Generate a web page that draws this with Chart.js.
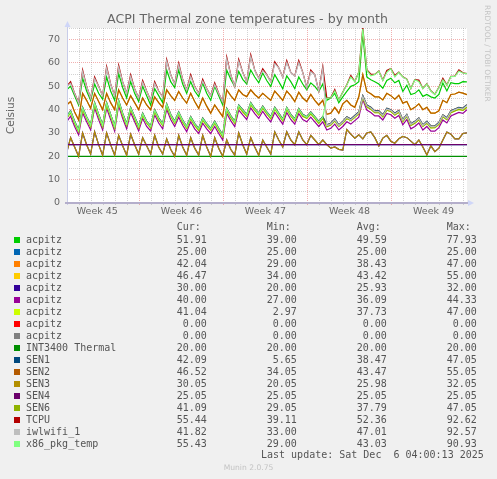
<!DOCTYPE html>
<html><head><meta charset="utf-8">
<script src="https://cdn.jsdelivr.net/npm/chart.js@4.4.1/dist/chart.umd.min.js"></script>
<style>
html,body{margin:0;padding:0;background:#f0f0f0;}
#wrap{position:relative;width:497px;height:479px;overflow:hidden;background:#f0f0f0;font-family:'DejaVu Sans',sans-serif;color:#666;}
#c{position:absolute;left:0;top:0;}
.t{position:absolute;white-space:pre;}
.mono{font-family:'DejaVu Sans Mono',monospace;font-size:10px;line-height:12px;color:#555;}
.sw{position:absolute;width:6px;height:6px;}
</style></head>
<body><div id="wrap">
<canvas id="c" width="497" height="222"></canvas>
<div class="t" style="left:0;width:495px;text-align:center;top:11px;font-size:12.6px;line-height:16px;color:#666;">ACPI Thermal zone temperatures - by month</div>
<div class="t" style="left:483px;top:5px;writing-mode:vertical-rl;font-size:7.5px;line-height:9px;color:#c4c4c4;">RRDTOOL / TOBI OETIKER</div>
<div id="legend"></div>
<div class="t mono" style="left:261px;top:449px;">Last update: Sat Dec  6 04:00:13 2025</div>
<div class="t" style="left:0;width:497px;text-align:center;top:463px;font-size:7.6px;line-height:10px;color:#c4c4c4;">Munin 2.0.75</div>
</div>
<script>
// ---- data: sample times in days from the left edge of the graph (regular RRD step of 8 h) ----
const sampleTimes = Array.from({length: 101}, (_, j) => -1/30 + j/3);
const flatTimes = [0, 33.31];

// x-axis labels (week names) and their positions (middle of each week, in days)
const weekLabels = ['Week 45', 'Week 46', 'Week 47', 'Week 48', 'Week 49'];
const weekLabelPos = [2.525, 9.525, 16.525, 23.525, 30.525];
const weekStarts = [6.025, 13.025, 20.025, 27.025];

const acpitzGreen = [48.5,
 50,46,42, 53.5,48,44, 51,47,44.5, 54,48,44, 55.5,49.5,45, 52,47,43.5, 50,46,42,
 49,46,43, 57,52,49.5, 57,51,47, 52,48,45.6, 51.4,47,44, 50,46,42, 57,53,50,
 56.4,53,51, 57,54,51.5, 55.7,52.5,50, 55,52,49, 54.5,52,49, 54,51,48.5, 51.5,50,47.8,
 51,44,45, 47,43,45.5, 47.8,50,50.7, 52,72.5,54, 52.8,52,51, 49.2,52.5,53.5, 51.5,52.5,47.8,
 50.5,46.5,47, 48.5,45.7,46.5, 45.5,45,46.5, 51.4,48,51.6, 51.2,51.2,52,
 51.91];

const orangeGroup = [42,
 43.5,39,35.6, 47,44,40.6, 47,43.5,40, 47,43,40, 48.5,45,42, 46,43,40, 45,42,40,
 45.5,43,41, 48.5,46,44, 47.8,45,42.8, 47,43.5,40.6, 45,41.5,38.5, 42,39.5,37, 48.5,46,44,
 48.5,46.5,45.6, 48.5,46.5,45, 47,45.5,44, 48,46,44, 48,46,43.5, 47.5,45,43.5, 46.5,44,42,
 44,38,38.5, 41,38.5,42.5, 44,42,41, 45.5,55,47.8, 46.8,45.5,45.5, 44.2,47,46, 44.5,46.2,42.8,
 43.5,40,41, 42.5,40,41, 38.5,38.5,39.5, 44,43,46.5, 46.7,47.5,47.1,
 46.47];

const midGroup = [37,
 39.5,35,31.3, 41,37,33.5, 43,38,33.5, 43,38,33, 44,38.5,34, 41,37,33, 38.5,35,33,
 40,36.5,34, 42.5,38,35, 39,35.5,32.8, 37,34,32, 36.4,34,32, 35,32,29.2, 40.6,37.5,35,
 42,40,38, 43,40.5,38.5, 41.5,39,37, 41,38.5,36, 41,38,36, 40.5,38,37, 39,37,35,
 37,33.5,34.2, 36,33.5,35, 37,36,37.5, 39,46,42, 41,39.5,39.5, 37.8,40.6,40, 38.5,39.7,35.7,
 38,34,35, 36.5,33.5,35, 33,33,34.5, 37.8,36.5,39.5, 40.3,41,40.6,
 42.09];

const limeGroup = [36.3,
 38.8,34.2,30.6, 40.1,36.3,32.7, 42.2,37.2,32.8, 42.1,37.3,32.2, 43.2,37.6,33.3, 40.3,36.2,32.1, 37.7,34.3,32.2,
 39.2,35.7,33.3, 41.6,37.3,34.2, 38.3,34.6,32, 36.2,33.3,31.2, 35.6,33.2,31.3, 34.3,31.2,28.4, 39.8,36.7,34.3,
 41.3,39.1,37.2, 42.2,39.8,37.7, 40.7,38.3,36.2, 40.3,37.7,35.3, 40.2,37.3,35.2, 39.8,37.2,36.3, 38.2,36.3,34.2,
 36.3,32.7,33.4, 35.2,32.8,34.3, 36.2,35.3,36.7, 38.3,45.2,41.2, 40.2,38.7,38.8, 37,39.8,39.2, 37.7,38.9,34.9,
 37.2,33.3,34.2, 35.7,32.8,34.2, 32.2,32.3,33.7, 37,35.7,38.7, 39.5,40.1,39.7,
 41.04];

const magentaLine = [34.8,
 37.2,32.8,29.2, 38.7,34.8,31.3, 40.8,35.8,31.4, 40.7,35.8,30.8, 41.8,36.3,31.8, 38.8,34.8,30.9, 36.3,32.8,30.9,
 37.8,34.3,31.8, 40.2,35.8,32.8, 36.8,33.3,30.6, 34.8,31.8,29.8, 34.2,31.8,29.8, 32.8,29.8,27, 38.4,35.3,32.8,
 39.8,37.8,35.8, 40.8,38.3,36.3, 39.3,36.8,34.8, 38.8,36.3,33.8, 38.8,35.8,33.8, 38.3,35.8,34.8, 36.8,34.8,32.8,
 34.8,31.3,32, 33.8,31.3,32.8, 34.8,33.8,35.3, 36.8,44.3,39.8, 38.8,37.3,37.3, 35.6,38.4,37.8, 36.3,37.5,33.5,
 35.8,31.8,32.8, 34.3,31.3,32.8, 30.8,30.8,32.3, 35.6,34.3,37.3, 38.1,38.8,38.4,
 40.00];

const bottomWave = [21.5,
 28,24,20, 30,25,21, 30.5,25,20.5, 30,25,20.5, 29,24.5,20.5, 29.5,25,21, 28,24.5,21,
 29,24,21, 27.5,23,20, 29,24,20.5, 28,23.5,20.5, 29,24,20, 28,23.5,20, 27,23,20.5,
 30,25,21, 28,24,20.5, 27,24,21, 30.5,27,24, 30.5,27,25, 30.5,27,25, 29,27,25,
 27,25,23.5, 24,23,22.7, 31.5,29.5,27.8, 29.2,27.5,30, 30.5,28,24.5, 27.8,29,26.5, 25.6,27.5,28.5,
 28,26.5,25, 27,24,20.6, 24.5,22,23.5, 27,30.4,29.5, 27.5,27.5,29.8,
 30.05];

const tcpu = [50,
 52,47,43, 57,50,45, 54,50,46, 58.5,51,46, 59,52,47, 55,49,45, 52.5,48,44,
 52,48,45.5, 61.5,55,51, 60,53,48.5, 55,50,47, 53,49,46, 51.5,47,43.5, 62.5,55,50,
 61.5,56,52, 63.5,57,53.5, 57.5,55,52, 60.5,58,54, 61,56,54.5, 61,56,49.5, 57,55,48,
 58.5,45.1,45.1, 48.6,44.1,47.6, 50.7,54.6,52.1, 56.1,75.2,57.1, 55.2,55.1,56.6, 52.6,56.8,57.6, 54.7,56.1,54.1,
 53.1,49.1,52.9, 52.7,49.1,51.1, 48.1,46.6,49.6, 53.4,50.6,54.3, 54.4,57.1,55.8,
 55.44];

const iwlwifi = [49.9,
 51.2,46.9,42.9, 56.2,49.9,44.9, 53.2,49.9,45.9, 57.7,50.9,45.9, 58.2,51.9,46.9, 54.2,48.9,44.9, 51.7,47.9,43.9,
 51.2,47.9,45.4, 60.7,54.9,50.9, 59.2,52.9,48.4, 54.2,49.9,46.9, 52.2,48.9,45.9, 50.7,46.9,43.4, 61.7,54.9,49.9,
 60.7,55.9,51.9, 62.7,56.9,53.4, 56.7,54.9,51.9, 59.7,57.9,53.9, 60.2,55.9,54.4, 60.2,55.9,49.4, 56.2,54.9,47.9,
 57.7,33.2,33.9, 35.7,33.2,34.7, 36.7,35.7,37.2, 38.7,45.6,41.7, 40.7,39.2,39.2, 37.5,40.3,39.7, 38.2,39.4,35.4,
 37.7,33.7,34.7, 36.2,33.2,34.7, 32.7,32.7,34.2, 37.5,36.2,39.2, 40,40.7,40.3,
 41.82];

const x86pkg = [36.8,
 39.3,34.8,31.1, 40.8,36.8,33.3, 42.8,37.8,33.3, 42.8,37.8,32.8, 43.8,38.3,33.8, 40.8,36.8,32.8, 38.3,34.8,32.8,
 39.8,36.3,33.8, 42.3,37.8,34.8, 38.8,35.3,32.6, 36.8,33.8,31.8, 36.2,33.8,31.8, 34.8,31.8,29, 40.4,37.3,34.8,
 41.8,39.8,37.8, 42.8,40.3,38.3, 41.3,38.8,36.8, 40.8,38.3,35.8, 40.8,37.8,35.8, 40.3,37.8,36.8, 38.8,36.8,34.8,
 36.8,45,45, 48,44,47.5, 50.6,54,52, 56,74.5,57, 54.5,55,56.5, 52.5,56,57.5, 54,56,54,
 53,49,52.8, 52,49,51, 48,46.5,49.5, 52.8,50.5,54.2, 54.3,56.5,55.7,
 55.43];

const flat25 = [25.00, 25.00];
const flat2505 = [25.05, 25.05];
const flat20 = [20.00, 20.00];
const flat0 = [0.00, 0.00];

const seriesNames = ['acpitz','acpitz','acpitz','acpitz','acpitz','acpitz','acpitz','acpitz','acpitz',
  'INT3400 Thermal','SEN1','SEN2','SEN3','SEN4','SEN6','TCPU','iwlwifi_1','x86_pkg_temp'];
const seriesColors = ['#00CC00','#0066B3','#FF8000','#FFCC00','#330099','#990099','#CCFF00','#FF0000','#808080',
  '#008F00','#00487D','#B35A00','#B38F00','#6B006B','#8FB300','#B30000','#BEBEBE','#80FF80'];
const seriesValues = [acpitzGreen, flat25, midGroup, orangeGroup, bottomWave, magentaLine, limeGroup, flat0, flat0,
  flat20, midGroup, orangeGroup, bottomWave, flat2505, limeGroup, tcpu, iwlwifi, x86pkg];

const curVals = [51.91,25.00,42.04,46.47,30.00,40.00,41.04,0.00,0.00,20.00,42.09,46.52,30.05,25.05,41.09,55.44,41.82,55.43];
const minVals = [39.00,25.00,29.00,34.00,20.00,27.00,2.97,0.00,0.00,20.00,5.65,34.05,20.05,25.05,29.05,39.11,33.00,29.00];
const avgVals = [49.59,25.00,38.43,43.42,25.93,36.09,37.73,0.00,0.00,20.00,38.47,43.47,25.98,25.05,37.79,52.36,47.01,43.03];
const maxVals = [77.93,25.00,47.00,55.00,32.00,44.33,47.00,0.00,0.00,20.00,47.05,55.05,32.05,25.05,47.05,92.62,92.57,90.93];

// ---- legend (HTML text) ----
const legend = document.getElementById('legend');
function addDiv(cls, style, text){ const d=document.createElement('div'); d.className=cls; d.setAttribute('style',style); if(text!==undefined) d.textContent=text; legend.appendChild(d); return d; }
const colStarts = [176.7, 266.7, 356.7, 446.7];
const colEnds = [206.8, 296.8, 386.8, 476.8];
['Cur:','Min:','Avg:','Max:'].forEach((h,i)=> addDiv('t mono', `left:${colStarts[i]}px;top:221px;`, h));
seriesNames.forEach((name,i)=>{
  const top = 234 + 12*i;
  addDiv('sw', `left:14px;top:${top+3}px;background:${seriesColors[i]};`);
  addDiv('t mono', `left:26px;top:${top}px;`, name);
  [curVals,minVals,avgVals,maxVals].forEach((arr,c)=>{
    addDiv('t mono', `right:${497-colEnds[c]}px;top:${top}px;text-align:right;`, arr[i].toFixed(2));
  });
});

// ---- chart ----
Chart.defaults.font.family = "'DejaVu Sans', sans-serif";
const MAJOR = 'rgba(224,80,80,0.45)';
const MINOR = 'rgba(140,140,140,0.38)';

const xTickValues = [];
for (let k = 0; k <= 33; k++) xTickValues.push(0.025 + k);
weekLabelPos.forEach(v => xTickValues.push(v));
xTickValues.sort((a,b)=>a-b);
const near = (a,b)=>Math.abs(a-b)<1e-6;
const isLabel = v => weekLabelPos.some(p=>near(p,v));
const isWeek = v => weekStarts.some(p=>near(p,v));
const xGridColor = ctx => { const v = ctx.tick ? ctx.tick.value : 0; return isLabel(v) ? 'rgba(0,0,0,0)' : (isWeek(v) ? MAJOR : MINOR); };

// later series are drawn on top (as in rrdtool): lower "order" = drawn later
const datasets = seriesNames.map((name,i)=>{
  const vals = seriesValues[i];
  const ts = vals.length === 2 ? flatTimes : sampleTimes;
  return {
    label: name,
    data: vals.map((v,j)=>({x: ts[j], y: v})),
    borderColor: seriesColors[i],
    backgroundColor: seriesColors[i],
    borderWidth: 1.2,
    pointRadius: 0,
    fill: false,
    tension: 0,
    order: seriesNames.length - i
  };
});

const decor = {
  id: 'decor',
  beforeDraw(chart){
    const {ctx, chartArea:a} = chart;
    ctx.save(); ctx.fillStyle = '#ffffff';
    ctx.fillRect(a.left, a.top, a.right - a.left, a.bottom - a.top);
    ctx.restore();
  },
  afterDatasetsDraw(chart){
    const {ctx, chartArea:a} = chart;
    ctx.save();
    ctx.lineWidth = 1;
    ctx.strokeStyle = '#c8cce8';
    ctx.beginPath(); ctx.moveTo(a.left + 0.5, a.bottom + 2); ctx.lineTo(a.left + 0.5, a.top - 4); ctx.stroke();
    ctx.fillStyle = '#b4aecb';
    ctx.fillRect(a.left - 2, a.bottom - 1, a.right - a.left + 5, 2);
    ctx.fillStyle = '#cfd6f8';
    ctx.beginPath(); ctx.moveTo(a.left + 0.5, a.top - 7); ctx.lineTo(a.left - 2.5, a.top - 1); ctx.lineTo(a.left + 3.5, a.top - 1); ctx.closePath(); ctx.fill();
    ctx.beginPath(); ctx.moveTo(a.right + 7, a.bottom); ctx.lineTo(a.right + 1, a.bottom - 3); ctx.lineTo(a.right + 1, a.bottom + 3); ctx.closePath(); ctx.fill();
    ctx.restore();
  }
};

new Chart(document.getElementById('c'), {
  type: 'line',
  data: { datasets },
  options: {
    responsive: false,
    devicePixelRatio: 1,
    animation: false,
    events: [],
    layout: { padding: { top: 28, right: 30, left: 0, bottom: 0 } },
    plugins: { legend: { display: false }, tooltip: { enabled: false }, title: { display: false } },
    scales: {
      x: {
        type: 'linear', min: 0, max: 33.31,
        afterFit: s => { s.height = 19; },
        afterBuildTicks: s => { s.ticks = xTickValues.map(v => ({value: v})); },
        ticks: {
          autoSkip: false, maxRotation: 0, minRotation: 0, padding: 1,
          font: { size: 9.5 }, color: '#666',
          callback: v => { const i = weekLabelPos.findIndex(p => near(p, v)); return i >= 0 ? weekLabels[i] : ''; }
        },
        grid: { color: xGridColor, lineWidth: 1, drawTicks: true, tickLength: 2, tickColor: xGridColor },
        border: { display: false, dash: [1, 1] }
      },
      y: {
        min: 0, max: 75,
        afterFit: s => { s.width = 67; },
        ticks: {
          stepSize: 5, autoSkip: false, padding: 7,
          font: { size: 9.5 }, color: '#666',
          callback: v => (v % 10 === 0 ? String(v) : '')
        },
        grid: { color: ctx => (ctx.tick && ctx.tick.value % 10 === 0) ? MAJOR : MINOR, lineWidth: 1, drawTicks: false },
        border: { display: false, dash: [1, 1] },
        title: { display: true, text: 'Celsius', color: '#666', font: { size: 10.5 }, padding: { top: 5, bottom: 0 } }
      }
    }
  },
  plugins: [decor]
});
</script>
</body></html>
